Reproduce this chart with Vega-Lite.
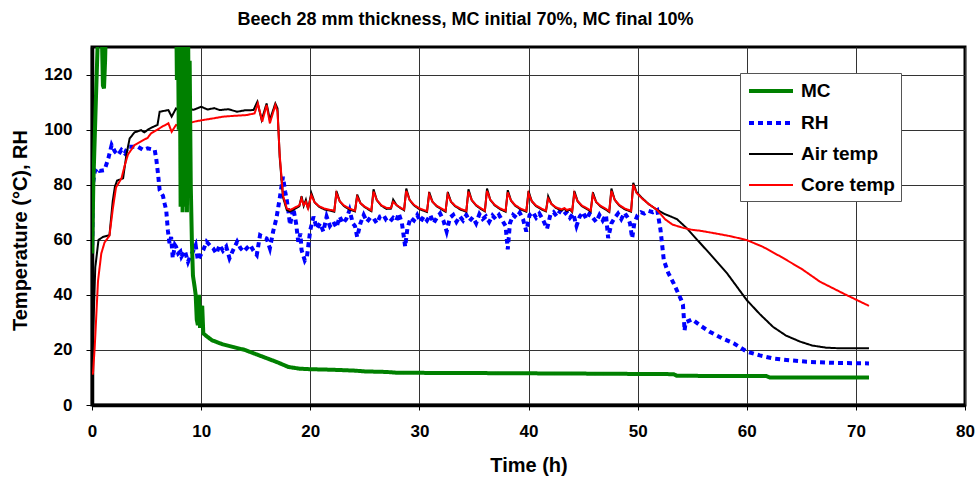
{
"$schema": "https://vega.github.io/schema/vega-lite/v6.json",
"width": 873, "height": 358,
"autosize": "none",
"padding": {"left": 92, "top": 47, "right": 10, "bottom": 74},
"config": {"font": "Liberation Sans", "view": {"stroke": "#000", "strokeWidth": 3}},
"title": {"text": "Beech 28 mm thickness, MC initial 70%, MC final 10%", "fontSize": 18, "fontWeight": "bold", "anchor": "middle", "frame": "group", "dx": -63, "baseline": "alphabetic", "offset": 4, "color": "#000"},
"data": {"values": [
{"s":"RH","t":0.02,"v":58},{"s":"RH","t":0.08,"v":80},{"s":"RH","t":0.25,"v":84.7},{"s":"RH","t":0.5,"v":86},{"s":"RH","t":0.7,"v":85},{"s":"RH","t":1.15,"v":85.3},{"s":"RH","t":1.5,"v":89.6},{"s":"RH","t":1.8,"v":94.4},{"s":"RH","t":2.1,"v":92},{"s":"RH","t":2.4,"v":90.8},{"s":"RH","t":2.7,"v":92.6},{"s":"RH","t":3.0,"v":91.4},{"s":"RH","t":3.3,"v":93.8},{"s":"RH","t":4.2,"v":93.8},{"s":"RH","t":4.7,"v":92.6},{"s":"RH","t":5.1,"v":93.2},{"s":"RH","t":5.75,"v":92.6},{"s":"RH","t":5.9,"v":89},{"s":"RH","t":6.05,"v":84},{"s":"RH","t":6.2,"v":78},{"s":"RH","t":6.5,"v":76},{"s":"RH","t":6.65,"v":73.2},{"s":"RH","t":6.8,"v":70.8},{"s":"RH","t":6.95,"v":63.5},{"s":"RH","t":7.1,"v":58.7},{"s":"RH","t":7.25,"v":61},{"s":"RH","t":7.4,"v":53.3},{"s":"RH","t":7.6,"v":58.1},{"s":"RH","t":7.7,"v":57.5},{"s":"RH","t":7.9,"v":55},{"s":"RH","t":8.1,"v":55.7},{"s":"RH","t":8.2,"v":53.9},{"s":"RH","t":8.5,"v":56},{"s":"RH","t":8.8,"v":52},{"s":"RH","t":9.0,"v":54},{"s":"RH","t":9.25,"v":55.7},{"s":"RH","t":9.5,"v":58},{"s":"RH","t":9.7,"v":52.6},{"s":"RH","t":9.9,"v":54},{"s":"RH","t":10.2,"v":56.3},{"s":"RH","t":10.5,"v":59.3},{"s":"RH","t":10.8,"v":58},{"s":"RH","t":11.1,"v":56.9},{"s":"RH","t":11.4,"v":55},{"s":"RH","t":11.7,"v":58.1},{"s":"RH","t":12.0,"v":56},{"s":"RH","t":12.3,"v":57.5},{"s":"RH","t":12.6,"v":53.3},{"s":"RH","t":12.9,"v":56},{"s":"RH","t":13.3,"v":59.3},{"s":"RH","t":13.6,"v":57},{"s":"RH","t":13.9,"v":55.7},{"s":"RH","t":14.2,"v":57},{"s":"RH","t":14.5,"v":58.1},{"s":"RH","t":14.8,"v":56},{"s":"RH","t":15.1,"v":54.5},{"s":"RH","t":15.4,"v":61.7},{"s":"RH","t":15.7,"v":61},{"s":"RH","t":16.0,"v":60.5},{"s":"RH","t":16.3,"v":56.9},{"s":"RH","t":16.6,"v":63},{"s":"RH","t":16.9,"v":67.8},{"s":"RH","t":17.2,"v":75},{"s":"RH","t":17.5,"v":82.9},{"s":"RH","t":17.7,"v":77.5},{"s":"RH","t":17.85,"v":74.4},{"s":"RH","t":18.0,"v":70.2},{"s":"RH","t":18.15,"v":65.4},{"s":"RH","t":18.45,"v":71.4},{"s":"RH","t":18.7,"v":66},{"s":"RH","t":18.9,"v":59.3},{"s":"RH","t":19.1,"v":62.3},{"s":"RH","t":19.2,"v":56.3},{"s":"RH","t":19.5,"v":52.5},{"s":"RH","t":19.7,"v":53.9},{"s":"RH","t":20.0,"v":63.5},{"s":"RH","t":20.3,"v":68.4},{"s":"RH","t":20.6,"v":64},{"s":"RH","t":20.9,"v":66},{"s":"RH","t":21.2,"v":63},{"s":"RH","t":21.5,"v":68.4},{"s":"RH","t":21.8,"v":65},{"s":"RH","t":22.1,"v":66.6},{"s":"RH","t":22.4,"v":64.5},{"s":"RH","t":22.7,"v":68.4},{"s":"RH","t":23.0,"v":66},{"s":"RH","t":23.3,"v":67.5},{"s":"RH","t":23.6,"v":70.8},{"s":"RH","t":23.9,"v":66},{"s":"RH","t":24.1,"v":65},{"s":"RH","t":24.3,"v":61},{"s":"RH","t":24.6,"v":66},{"s":"RH","t":24.9,"v":69},{"s":"RH","t":25.2,"v":66.5},{"s":"RH","t":25.5,"v":68},{"s":"RH","t":25.8,"v":67.8},{"s":"RH","t":26.1,"v":66},{"s":"RH","t":26.4,"v":68.5},{"s":"RH","t":26.7,"v":69},{"s":"RH","t":27.0,"v":67},{"s":"RH","t":27.3,"v":66.6},{"s":"RH","t":27.6,"v":68},{"s":"RH","t":27.9,"v":67},{"s":"RH","t":28.1,"v":69.6},{"s":"RH","t":28.4,"v":66},{"s":"RH","t":28.7,"v":57.5},{"s":"RH","t":28.9,"v":64},{"s":"RH","t":29.2,"v":68},{"s":"RH","t":29.5,"v":67},{"s":"RH","t":29.8,"v":69},{"s":"RH","t":30.1,"v":66.5},{"s":"RH","t":30.4,"v":68.5},{"s":"RH","t":30.7,"v":67},{"s":"RH","t":31.0,"v":69},{"s":"RH","t":31.3,"v":66},{"s":"RH","t":31.6,"v":68},{"s":"RH","t":31.9,"v":69.5},{"s":"RH","t":32.2,"v":67},{"s":"RH","t":32.5,"v":63},{"s":"RH","t":32.8,"v":68},{"s":"RH","t":33.1,"v":69},{"s":"RH","t":33.4,"v":66.5},{"s":"RH","t":33.7,"v":68.5},{"s":"RH","t":34.0,"v":67},{"s":"RH","t":34.3,"v":69},{"s":"RH","t":34.6,"v":66.8},{"s":"RH","t":34.9,"v":68.2},{"s":"RH","t":35.2,"v":66},{"s":"RH","t":35.5,"v":69.3},{"s":"RH","t":35.8,"v":67.5},{"s":"RH","t":36.1,"v":68.5},{"s":"RH","t":36.4,"v":66.5},{"s":"RH","t":36.7,"v":68.8},{"s":"RH","t":37.0,"v":67.5},{"s":"RH","t":37.3,"v":69},{"s":"RH","t":37.6,"v":67},{"s":"RH","t":37.9,"v":65},{"s":"RH","t":38.1,"v":56.5},{"s":"RH","t":38.3,"v":66},{"s":"RH","t":38.6,"v":69},{"s":"RH","t":38.9,"v":68},{"s":"RH","t":39.2,"v":69.8},{"s":"RH","t":39.5,"v":67.5},{"s":"RH","t":39.8,"v":63},{"s":"RH","t":40.1,"v":69},{"s":"RH","t":40.4,"v":70},{"s":"RH","t":40.7,"v":68},{"s":"RH","t":41.0,"v":69.5},{"s":"RH","t":41.3,"v":67.5},{"s":"RH","t":41.7,"v":64},{"s":"RH","t":42.0,"v":69},{"s":"RH","t":42.3,"v":70},{"s":"RH","t":42.6,"v":68.5},{"s":"RH","t":42.9,"v":70.5},{"s":"RH","t":43.2,"v":69},{"s":"RH","t":43.5,"v":70},{"s":"RH","t":43.8,"v":68},{"s":"RH","t":44.1,"v":69.5},{"s":"RH","t":44.4,"v":65},{"s":"RH","t":44.7,"v":68.5},{"s":"RH","t":45.0,"v":70},{"s":"RH","t":45.3,"v":67.5},{"s":"RH","t":45.6,"v":69.5},{"s":"RH","t":45.9,"v":68},{"s":"RH","t":46.2,"v":66.5},{"s":"RH","t":46.5,"v":69},{"s":"RH","t":46.8,"v":67},{"s":"RH","t":47.1,"v":69},{"s":"RH","t":47.3,"v":60.6},{"s":"RH","t":47.6,"v":66},{"s":"RH","t":47.9,"v":68},{"s":"RH","t":48.2,"v":69.5},{"s":"RH","t":48.5,"v":67.5},{"s":"RH","t":48.8,"v":69.8},{"s":"RH","t":49.1,"v":68},{"s":"RH","t":49.3,"v":66},{"s":"RH","t":49.5,"v":60.6},{"s":"RH","t":49.7,"v":66},{"s":"RH","t":50.0,"v":69},{"s":"RH","t":50.3,"v":70},{"s":"RH","t":50.6,"v":69.5},{"s":"RH","t":51.0,"v":70.5},{"s":"RH","t":51.4,"v":70},{"s":"RH","t":51.8,"v":70.8},{"s":"RH","t":52.1,"v":63.5},{"s":"RH","t":52.4,"v":52.6},{"s":"RH","t":52.8,"v":48},{"s":"RH","t":53.3,"v":44.2},{"s":"RH","t":54.0,"v":38.1},{"s":"RH","t":54.15,"v":36.5},{"s":"RH","t":54.25,"v":30.9},{"s":"RH","t":54.3,"v":27},{"s":"RH","t":54.4,"v":30},{"s":"RH","t":55.0,"v":31.1},{"s":"RH","t":55.8,"v":28.7},{"s":"RH","t":56.6,"v":26.6},{"s":"RH","t":57.7,"v":24.3},{"s":"RH","t":58.8,"v":22.4},{"s":"RH","t":60.0,"v":19.4},{"s":"RH","t":61.2,"v":18},{"s":"RH","t":62.4,"v":16.9},{"s":"RH","t":64,"v":16.2},{"s":"RH","t":65.5,"v":15.7},{"s":"RH","t":68,"v":15.3},{"s":"RH","t":71.2,"v":15.1},
{"s":"Air temp","t":0.02,"v":15},{"s":"Air temp","t":0.3,"v":50},{"s":"Air temp","t":0.6,"v":60},{"s":"Air temp","t":1.0,"v":61},{"s":"Air temp","t":1.6,"v":61.7},{"s":"Air temp","t":1.9,"v":74},{"s":"Air temp","t":2.1,"v":79.3},{"s":"Air temp","t":2.3,"v":81.5},{"s":"Air temp","t":2.85,"v":82.3},{"s":"Air temp","t":3.15,"v":90.8},{"s":"Air temp","t":3.45,"v":96.8},{"s":"Air temp","t":3.9,"v":99},{"s":"Air temp","t":4.5,"v":99.8},{"s":"Air temp","t":4.8,"v":99},{"s":"Air temp","t":5.2,"v":100.2},{"s":"Air temp","t":5.6,"v":101},{"s":"Air temp","t":6.0,"v":101.7},{"s":"Air temp","t":6.2,"v":106.5},{"s":"Air temp","t":6.6,"v":106.8},{"s":"Air temp","t":7.0,"v":107.1},{"s":"Air temp","t":7.3,"v":104.7},{"s":"Air temp","t":7.7,"v":107.7},{"s":"Air temp","t":8.0,"v":106.8},{"s":"Air temp","t":8.3,"v":108.2},{"s":"Air temp","t":8.6,"v":107},{"s":"Air temp","t":8.8,"v":107.7},{"s":"Air temp","t":9.3,"v":107.2},{"s":"Air temp","t":10.0,"v":108.3},{"s":"Air temp","t":10.6,"v":107.3},{"s":"Air temp","t":11.2,"v":107.8},{"s":"Air temp","t":11.7,"v":107.1},{"s":"Air temp","t":12.5,"v":107.4},{"s":"Air temp","t":13.3,"v":106.5},{"s":"Air temp","t":14.0,"v":107},{"s":"Air temp","t":14.8,"v":107.1},{"s":"Air temp","t":15.15,"v":110.1},{"s":"Air temp","t":15.55,"v":103.5},{"s":"Air temp","t":16.0,"v":109.5},{"s":"Air temp","t":16.3,"v":103.5},{"s":"Air temp","t":16.8,"v":109.5},{"s":"Air temp","t":17.0,"v":107.7},{"s":"Air temp","t":17.2,"v":90},{"s":"Air temp","t":17.5,"v":75.5},{"s":"Air temp","t":17.85,"v":70.8},{"s":"Air temp","t":18.15,"v":70.3},{"s":"Air temp","t":18.75,"v":71.6},{"s":"Air temp","t":19.0,"v":72.2},{"s":"Air temp","t":19.2,"v":75.8},{"s":"Air temp","t":19.4,"v":72.3},{"s":"Air temp","t":19.6,"v":74.5},{"s":"Air temp","t":19.8,"v":71.1},{"s":"Air temp","t":20.1,"v":77},{"s":"Air temp","t":20.4,"v":73.6},{"s":"Air temp","t":20.8,"v":72},{"s":"Air temp","t":21.3,"v":71},{"s":"Air temp","t":21.9,"v":70.5},{"s":"Air temp","t":22.2,"v":70.2},{"s":"Air temp","t":22.4,"v":77.7},{"s":"Air temp","t":22.7,"v":74},{"s":"Air temp","t":23.1,"v":72.2},{"s":"Air temp","t":23.6,"v":71},{"s":"Air temp","t":24.1,"v":70.3},{"s":"Air temp","t":24.3,"v":76.4},{"s":"Air temp","t":24.6,"v":73.3},{"s":"Air temp","t":25.0,"v":71.8},{"s":"Air temp","t":25.6,"v":70.4},{"s":"Air temp","t":25.8,"v":78.3},{"s":"Air temp","t":26.1,"v":74.4},{"s":"Air temp","t":26.5,"v":72.4},{"s":"Air temp","t":27.0,"v":71.2},{"s":"Air temp","t":27.4,"v":71.3},{"s":"Air temp","t":27.6,"v":74.6},{"s":"Air temp","t":27.9,"v":72.6},{"s":"Air temp","t":28.3,"v":71.4},{"s":"Air temp","t":28.6,"v":70.7},{"s":"Air temp","t":28.8,"v":78.6},{"s":"Air temp","t":29.1,"v":74.5},{"s":"Air temp","t":29.5,"v":72.5},{"s":"Air temp","t":30.0,"v":71.1},{"s":"Air temp","t":30.7,"v":70.1},{"s":"Air temp","t":30.9,"v":77.3},{"s":"Air temp","t":31.2,"v":73.8},{"s":"Air temp","t":31.6,"v":72.1},{"s":"Air temp","t":32.1,"v":70.9},{"s":"Air temp","t":32.4,"v":70.2},{"s":"Air temp","t":32.6,"v":77.3},{"s":"Air temp","t":32.9,"v":73.8},{"s":"Air temp","t":33.3,"v":72.1},{"s":"Air temp","t":33.8,"v":70.9},{"s":"Air temp","t":34.3,"v":70.2},{"s":"Air temp","t":34.5,"v":78.3},{"s":"Air temp","t":34.8,"v":74.4},{"s":"Air temp","t":35.2,"v":72.4},{"s":"Air temp","t":35.7,"v":71},{"s":"Air temp","t":36.0,"v":70.3},{"s":"Air temp","t":36.2,"v":78.6},{"s":"Air temp","t":36.5,"v":74.5},{"s":"Air temp","t":36.9,"v":72.5},{"s":"Air temp","t":37.4,"v":71.1},{"s":"Air temp","t":37.9,"v":70.2},{"s":"Air temp","t":38.1,"v":78},{"s":"Air temp","t":38.4,"v":74.2},{"s":"Air temp","t":38.8,"v":72.3},{"s":"Air temp","t":39.3,"v":71},{"s":"Air temp","t":39.8,"v":70.2},{"s":"Air temp","t":40.0,"v":77.7},{"s":"Air temp","t":40.3,"v":74},{"s":"Air temp","t":40.7,"v":72.2},{"s":"Air temp","t":41.2,"v":71},{"s":"Air temp","t":41.6,"v":70.3},{"s":"Air temp","t":41.8,"v":75.8},{"s":"Air temp","t":42.1,"v":73},{"s":"Air temp","t":42.5,"v":71.6},{"s":"Air temp","t":43.0,"v":70.7},{"s":"Air temp","t":43.3,"v":71.2},{"s":"Air temp","t":43.5,"v":70.5},{"s":"Air temp","t":43.8,"v":70.9},{"s":"Air temp","t":44.0,"v":70.1},{"s":"Air temp","t":44.2,"v":77.7},{"s":"Air temp","t":44.5,"v":74},{"s":"Air temp","t":44.9,"v":72.2},{"s":"Air temp","t":45.4,"v":71},{"s":"Air temp","t":45.7,"v":70.3},{"s":"Air temp","t":45.9,"v":77.2},{"s":"Air temp","t":46.2,"v":73.7},{"s":"Air temp","t":46.6,"v":72.1},{"s":"Air temp","t":47.1,"v":70.9},{"s":"Air temp","t":47.4,"v":70.1},{"s":"Air temp","t":47.6,"v":78.6},{"s":"Air temp","t":47.9,"v":74.5},{"s":"Air temp","t":48.3,"v":72.5},{"s":"Air temp","t":48.8,"v":71.1},{"s":"Air temp","t":49.4,"v":70.2},{"s":"Air temp","t":49.6,"v":80.7},{"s":"Air temp","t":49.9,"v":77.3},{"s":"Air temp","t":50.4,"v":75.2},{"s":"Air temp","t":51.0,"v":73},{"s":"Air temp","t":51.8,"v":70.8},{"s":"Air temp","t":52.5,"v":69.3},{"s":"Air temp","t":53.0,"v":68.5},{"s":"Air temp","t":53.6,"v":67.5},{"s":"Air temp","t":54.5,"v":64.2},{"s":"Air temp","t":55.5,"v":59.8},{"s":"Air temp","t":56.6,"v":55},{"s":"Air temp","t":58.2,"v":47.8},{"s":"Air temp","t":60,"v":38.1},{"s":"Air temp","t":61.2,"v":33},{"s":"Air temp","t":62.4,"v":28.4},{"s":"Air temp","t":63.6,"v":25.2},{"s":"Air temp","t":64.9,"v":23},{"s":"Air temp","t":66,"v":21.6},{"s":"Air temp","t":67.3,"v":20.8},{"s":"Air temp","t":68.5,"v":20.6},{"s":"Air temp","t":71.2,"v":20.6},
{"s":"Core temp","t":0.05,"v":11},{"s":"Core temp","t":0.1,"v":12},{"s":"Core temp","t":0.25,"v":21},{"s":"Core temp","t":0.4,"v":33},{"s":"Core temp","t":0.55,"v":45},{"s":"Core temp","t":0.85,"v":55},{"s":"Core temp","t":1.15,"v":59},{"s":"Core temp","t":1.6,"v":61.5},{"s":"Core temp","t":1.9,"v":71},{"s":"Core temp","t":2.2,"v":79},{"s":"Core temp","t":2.7,"v":82.3},{"s":"Core temp","t":3.0,"v":87},{"s":"Core temp","t":3.3,"v":91},{"s":"Core temp","t":3.9,"v":94.4},{"s":"Core temp","t":4.7,"v":96.2},{"s":"Core temp","t":5.1,"v":97},{"s":"Core temp","t":5.4,"v":98.6},{"s":"Core temp","t":6.0,"v":100},{"s":"Core temp","t":6.4,"v":101},{"s":"Core temp","t":7.0,"v":102.3},{"s":"Core temp","t":7.3,"v":99.2},{"s":"Core temp","t":7.7,"v":101.7},{"s":"Core temp","t":8.1,"v":101},{"s":"Core temp","t":8.4,"v":101.7},{"s":"Core temp","t":8.8,"v":102.3},{"s":"Core temp","t":9.5,"v":103},{"s":"Core temp","t":10.2,"v":103.5},{"s":"Core temp","t":11,"v":104},{"s":"Core temp","t":12,"v":104.7},{"s":"Core temp","t":13,"v":105},{"s":"Core temp","t":14.2,"v":105.3},{"s":"Core temp","t":14.9,"v":105.9},{"s":"Core temp","t":15.2,"v":109.5},{"s":"Core temp","t":15.6,"v":102.9},{"s":"Core temp","t":16.0,"v":108.9},{"s":"Core temp","t":16.3,"v":102.3},{"s":"Core temp","t":16.8,"v":108.9},{"s":"Core temp","t":17.0,"v":106.5},{"s":"Core temp","t":17.2,"v":90.8},{"s":"Core temp","t":17.5,"v":76.2},{"s":"Core temp","t":17.85,"v":71.4},{"s":"Core temp","t":18.15,"v":70.8},{"s":"Core temp","t":18.75,"v":72},{"s":"Core temp","t":19.0,"v":72.5},{"s":"Core temp","t":19.2,"v":75},{"s":"Core temp","t":19.4,"v":72.6},{"s":"Core temp","t":19.6,"v":73.8},{"s":"Core temp","t":19.8,"v":71.4},{"s":"Core temp","t":20.1,"v":76.2},{"s":"Core temp","t":20.4,"v":73.6},{"s":"Core temp","t":20.8,"v":72.2},{"s":"Core temp","t":21.3,"v":71.3},{"s":"Core temp","t":21.9,"v":70.8},{"s":"Core temp","t":22.2,"v":70.5},{"s":"Core temp","t":22.4,"v":76.9},{"s":"Core temp","t":22.7,"v":74},{"s":"Core temp","t":23.1,"v":72.4},{"s":"Core temp","t":23.6,"v":71.3},{"s":"Core temp","t":24.1,"v":70.6},{"s":"Core temp","t":24.3,"v":75.6},{"s":"Core temp","t":24.6,"v":73.3},{"s":"Core temp","t":25.0,"v":72},{"s":"Core temp","t":25.6,"v":70.7},{"s":"Core temp","t":25.8,"v":77.5},{"s":"Core temp","t":26.1,"v":74.4},{"s":"Core temp","t":26.5,"v":72.6},{"s":"Core temp","t":27.0,"v":71.5},{"s":"Core temp","t":27.4,"v":71.6},{"s":"Core temp","t":27.6,"v":73.8},{"s":"Core temp","t":27.9,"v":72.6},{"s":"Core temp","t":28.3,"v":71.6},{"s":"Core temp","t":28.6,"v":71},{"s":"Core temp","t":28.8,"v":77.8},{"s":"Core temp","t":29.1,"v":74.5},{"s":"Core temp","t":29.5,"v":72.7},{"s":"Core temp","t":30.0,"v":71.4},{"s":"Core temp","t":30.7,"v":70.4},{"s":"Core temp","t":30.9,"v":76.5},{"s":"Core temp","t":31.2,"v":73.8},{"s":"Core temp","t":31.6,"v":72.3},{"s":"Core temp","t":32.1,"v":71.2},{"s":"Core temp","t":32.4,"v":70.5},{"s":"Core temp","t":32.6,"v":76.5},{"s":"Core temp","t":32.9,"v":73.8},{"s":"Core temp","t":33.3,"v":72.3},{"s":"Core temp","t":33.8,"v":71.2},{"s":"Core temp","t":34.3,"v":70.5},{"s":"Core temp","t":34.5,"v":77.5},{"s":"Core temp","t":34.8,"v":74.4},{"s":"Core temp","t":35.2,"v":72.6},{"s":"Core temp","t":35.7,"v":71.3},{"s":"Core temp","t":36.0,"v":70.6},{"s":"Core temp","t":36.2,"v":77.8},{"s":"Core temp","t":36.5,"v":74.5},{"s":"Core temp","t":36.9,"v":72.7},{"s":"Core temp","t":37.4,"v":71.4},{"s":"Core temp","t":37.9,"v":70.5},{"s":"Core temp","t":38.1,"v":77.2},{"s":"Core temp","t":38.4,"v":74.2},{"s":"Core temp","t":38.8,"v":72.5},{"s":"Core temp","t":39.3,"v":71.3},{"s":"Core temp","t":39.8,"v":70.5},{"s":"Core temp","t":40.0,"v":76.9},{"s":"Core temp","t":40.3,"v":74},{"s":"Core temp","t":40.7,"v":72.4},{"s":"Core temp","t":41.2,"v":71.3},{"s":"Core temp","t":41.6,"v":70.6},{"s":"Core temp","t":41.8,"v":75},{"s":"Core temp","t":42.1,"v":73},{"s":"Core temp","t":42.5,"v":71.8},{"s":"Core temp","t":43.0,"v":71},{"s":"Core temp","t":43.3,"v":71.5},{"s":"Core temp","t":43.5,"v":70.8},{"s":"Core temp","t":43.8,"v":71.2},{"s":"Core temp","t":44.0,"v":70.4},{"s":"Core temp","t":44.2,"v":76.9},{"s":"Core temp","t":44.5,"v":74},{"s":"Core temp","t":44.9,"v":72.4},{"s":"Core temp","t":45.4,"v":71.3},{"s":"Core temp","t":45.7,"v":70.6},{"s":"Core temp","t":45.9,"v":76.4},{"s":"Core temp","t":46.2,"v":73.7},{"s":"Core temp","t":46.6,"v":72.3},{"s":"Core temp","t":47.1,"v":71.2},{"s":"Core temp","t":47.4,"v":70.4},{"s":"Core temp","t":47.6,"v":77.8},{"s":"Core temp","t":47.9,"v":74.5},{"s":"Core temp","t":48.3,"v":72.7},{"s":"Core temp","t":48.8,"v":71.4},{"s":"Core temp","t":49.4,"v":70.5},{"s":"Core temp","t":49.6,"v":80},{"s":"Core temp","t":49.9,"v":77},{"s":"Core temp","t":50.4,"v":75},{"s":"Core temp","t":51.0,"v":73},{"s":"Core temp","t":51.8,"v":70.8},{"s":"Core temp","t":52.5,"v":67.5},{"s":"Core temp","t":53.2,"v":65.5},{"s":"Core temp","t":54.2,"v":64.3},{"s":"Core temp","t":55.0,"v":63.6},{"s":"Core temp","t":55.7,"v":63.3},{"s":"Core temp","t":57,"v":62.4},{"s":"Core temp","t":58.5,"v":61.3},{"s":"Core temp","t":60,"v":59.9},{"s":"Core temp","t":61.5,"v":57.4},{"s":"Core temp","t":63.1,"v":53.9},{"s":"Core temp","t":65,"v":49.5},{"s":"Core temp","t":66.7,"v":44.8},{"s":"Core temp","t":69,"v":40.2},{"s":"Core temp","t":71.2,"v":36},
{"s":"MC","t":0.02,"v":55},{"s":"MC","t":0.12,"v":80},{"s":"MC","t":0.35,"v":110},{"s":"MC","t":0.55,"v":135},{"s":"MC","t":0.7,"v":150},{"s":"MC","t":0.9,"v":135},{"s":"MC","t":1.0,"v":116},{"s":"MC","t":1.1,"v":115},{"s":"MC","t":1.2,"v":125},{"s":"MC","t":1.35,"v":150},{"s":"MC","t":7.7,"v":150},{"s":"MC","t":7.78,"v":118},{"s":"MC","t":7.85,"v":150},{"s":"MC","t":7.95,"v":100},{"s":"MC","t":8.02,"v":150},{"s":"MC","t":8.12,"v":72},{"s":"MC","t":8.2,"v":150},{"s":"MC","t":8.3,"v":70},{"s":"MC","t":8.4,"v":150},{"s":"MC","t":8.5,"v":72},{"s":"MC","t":8.6,"v":145},{"s":"MC","t":8.7,"v":70},{"s":"MC","t":8.8,"v":140},{"s":"MC","t":8.9,"v":84},{"s":"MC","t":8.95,"v":125},{"s":"MC","t":9.05,"v":80},{"s":"MC","t":9.15,"v":60},{"s":"MC","t":9.25,"v":47},{"s":"MC","t":9.4,"v":43},{"s":"MC","t":9.5,"v":40},{"s":"MC","t":9.6,"v":31},{"s":"MC","t":9.7,"v":29},{"s":"MC","t":9.8,"v":40},{"s":"MC","t":9.9,"v":28},{"s":"MC","t":10.0,"v":35},{"s":"MC","t":10.1,"v":36},{"s":"MC","t":10.2,"v":26},{"s":"MC","t":10.5,"v":25},{"s":"MC","t":11,"v":23.5},{"s":"MC","t":12,"v":22},{"s":"MC","t":13,"v":21},{"s":"MC","t":14,"v":20},{"s":"MC","t":15,"v":18.5},{"s":"MC","t":16,"v":17},{"s":"MC","t":17,"v":15.5},{"s":"MC","t":18,"v":13.8},{"s":"MC","t":19,"v":13.2},{"s":"MC","t":20,"v":13},{"s":"MC","t":22,"v":12.8},{"s":"MC","t":24,"v":12.5},{"s":"MC","t":25,"v":12.2},{"s":"MC","t":27,"v":12},{"s":"MC","t":28,"v":11.7},{"s":"MC","t":35,"v":11.6},{"s":"MC","t":45,"v":11.4},{"s":"MC","t":53.3,"v":11.2},{"s":"MC","t":53.6,"v":10.6},{"s":"MC","t":61.8,"v":10.5},{"s":"MC","t":62.1,"v":10},{"s":"MC","t":71.2,"v":10}
]},
"encoding": {
  "x": {"field": "t", "type": "quantitative", "scale": {"domain": [0, 80], "nice": false}, "axis": {"title": "Time (h)", "values": [0,10,20,30,40,50,60,70,80], "grid": true, "gridColor": "#333", "gridWidth": 1, "domainColor": "#000", "domainWidth": 3.5, "tickColor": "#000", "tickSize": 5, "labelPadding": 13, "labelFontSize": 17, "labelFontWeight": "bold", "labelColor": "#000", "labelFlush": false, "titleFontSize": 20, "titleFontWeight": "bold", "titleColor": "#000", "titleBaseline": "alphabetic", "titleY": 66}},
  "y": {"field": "v", "type": "quantitative", "scale": {"domain": [0, 130], "nice": false}, "axis": {"title": "Temperature (°C), RH", "values": [0,20,40,60,80,100,120], "grid": true, "gridColor": "#333", "gridWidth": 1, "domainColor": "#000", "domainWidth": 3.5, "tickColor": "#000", "tickSize": 6, "labelPadding": 14, "labelFontSize": 17, "labelFontWeight": "bold", "labelColor": "#000", "titleFontSize": 20, "titleFontWeight": "bold", "titleColor": "#000", "titleBaseline": "middle", "titleX": -72, "titleY": 183, "titleAngle": -90}},
  "color": {"field": "s", "type": "nominal", "scale": {"domain": ["MC","RH","Air temp","Core temp"], "range": ["#008000","#0000ff","#000000","#ff0000"]},
    "legend": {"title": null, "orient": "none", "legendX": 648, "legendY": 26, "symbolType": "M-2.2,0H2.2", "symbolSize": 400, "symbolOffset": 13, "labelOffset": 18, "labelFontSize": 19, "labelFontWeight": "bold", "labelColor": "#000", "rowPadding": 10, "padding": 6, "strokeColor": "#555", "fillColor": "#fff"}},
  "strokeDash": {"field": "s", "type": "nominal", "scale": {"domain": ["MC","RH","Air temp","Core temp"], "range": [[1,0],[5,4],[1,0],[1,0]]}},
  "strokeWidth": {"field": "s", "type": "nominal", "scale": {"type": "ordinal", "domain": ["MC","RH","Air temp","Core temp"], "range": [4,4,2,2]}}
},
"layer": [
  {"transform": [{"filter": "datum.s === 'RH'"}], "mark": {"type": "line", "clip": true}},
  {"transform": [{"filter": "datum.s === 'Air temp'"}], "mark": {"type": "line", "clip": true}},
  {"transform": [{"filter": "datum.s === 'Core temp'"}], "mark": {"type": "line", "clip": true}},
  {"transform": [{"filter": "datum.s === 'MC'"}], "mark": {"type": "line", "clip": true}}
]
}
